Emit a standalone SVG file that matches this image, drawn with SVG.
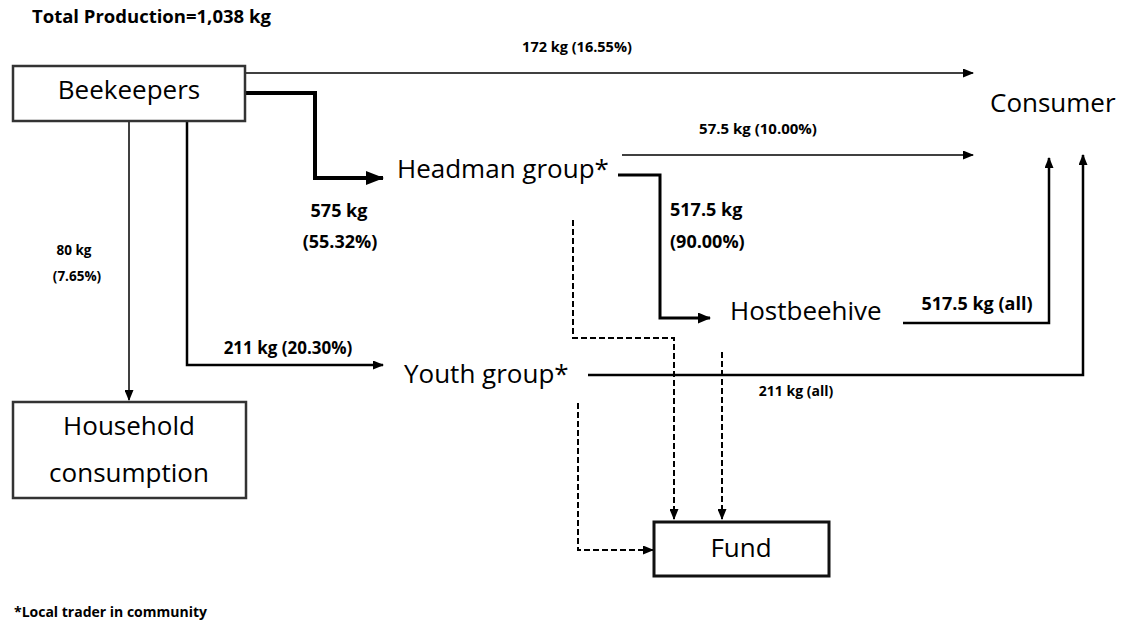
<svg xmlns="http://www.w3.org/2000/svg" width="1132" height="633" viewBox="0 0 1132 633">
<defs>
<marker id="aS" markerUnits="userSpaceOnUse" markerWidth="11" markerHeight="9" refX="10" refY="4.5" orient="auto"><path d="M0,0 L11,4.5 L0,9 z" fill="#000"/></marker>
<marker id="aM" markerUnits="userSpaceOnUse" markerWidth="13" markerHeight="11" refX="12" refY="5.5" orient="auto"><path d="M0,0 L13,5.5 L0,11 z" fill="#000"/></marker>
<marker id="aL" markerUnits="userSpaceOnUse" markerWidth="18" markerHeight="14" refX="17" refY="7" orient="auto"><path d="M0,0 L18,7 L0,14 z" fill="#000"/></marker>
</defs>
<style>
.node{font-family:"Open Sans","Noto Sans",sans-serif;font-size:26px;font-weight:500;fill:#000}
.lbl{font-family:"Open Sans","Noto Sans",sans-serif;font-weight:bold;fill:#000}
.box{fill:#fff;stroke:#333;stroke-width:2.5}
.c{fill:none;stroke:#000}
.d{fill:none;stroke:#000;stroke-width:2;stroke-dasharray:6,3}
</style>
<rect width="1132" height="633" fill="#fff"/>
<text class="lbl" x="32" y="23" font-size="18.5">Total Production=1,038 kg</text>
<g id="connectors">
<path class="c" d="M245,73 H973" stroke-width="1.5" marker-end="url(#aS)"/>
<path class="c" d="M245,93 H315 V178 H383" stroke-width="4" marker-end="url(#aL)"/>
<path class="c" d="M129,121 V400" stroke-width="1.5" marker-end="url(#aS)"/>
<path class="c" d="M187,121 V365 H383" stroke-width="2.5" marker-end="url(#aS)"/>
<path class="c" d="M622,155 H973" stroke-width="1.5" marker-end="url(#aS)"/>
<path class="c" d="M618,175 H660 V318 H710" stroke-width="3" marker-end="url(#aM)"/>
<path class="c" d="M903,323 H1049 V158" stroke-width="2.5" marker-end="url(#aS)"/>
<path class="c" d="M588,375 H1083 V155" stroke-width="2.5" marker-end="url(#aS)"/>
<path class="d" d="M573,220 V338 H674 V519" marker-end="url(#aS)"/>
<path class="d" d="M722,352 V519" marker-end="url(#aS)"/>
<path class="d" d="M578,403 V550 H653" marker-end="url(#aS)"/>
</g>
<g id="edge-labels">
<text class="lbl" x="577" y="52" font-size="14.5" text-anchor="middle">172 kg (16.55%)</text>
<text class="lbl" x="758" y="134" font-size="15" text-anchor="middle">57.5 kg (10.00%)</text>
<text class="lbl" x="339" y="217" font-size="18" text-anchor="middle">575 kg</text>
<text class="lbl" x="340" y="248" font-size="18" text-anchor="middle">(55.32%)</text>
<text class="lbl" x="670" y="216" font-size="18">517.5 kg</text>
<text class="lbl" x="670" y="248" font-size="18">(90.00%)</text>
<text class="lbl" x="74" y="255" font-size="13.5" text-anchor="middle">80 kg</text>
<text class="lbl" x="77" y="281" font-size="13.5" text-anchor="middle">(7.65%)</text>
<text class="lbl" x="288" y="354" font-size="17" text-anchor="middle">211 kg (20.30%)</text>
<text class="lbl" x="977" y="310" font-size="18" text-anchor="middle">517.5 kg (all)</text>
<text class="lbl" x="796" y="396" font-size="14" text-anchor="middle">211 kg (all)</text>
</g>
<g id="beekeepers"><rect class="box" x="13" y="66" width="232" height="55"/><text class="node" x="129" y="99" text-anchor="middle">Beekeepers</text></g>
<g id="consumer"><text class="node" x="990" y="112">Consumer</text></g>
<g id="headman"><text class="node" x="397" y="178">Headman group*</text></g>
<g id="hostbeehive"><text class="node" x="730" y="320">Hostbeehive</text></g>
<g id="youth"><text class="node" x="404" y="383">Youth group*</text></g>
<g id="household"><rect class="box" x="13" y="402" width="233" height="96"/><text class="node" x="129" y="435" text-anchor="middle">Household</text><text class="node" x="129" y="482" text-anchor="middle">consumption</text></g>
<g id="fund"><rect x="654" y="522" width="175" height="54" fill="#fff" stroke="#111" stroke-width="3"/><text class="node" x="741" y="557" text-anchor="middle">Fund</text></g>
<text class="lbl" x="14" y="617" font-size="14">*Local trader in community</text>
</svg>
